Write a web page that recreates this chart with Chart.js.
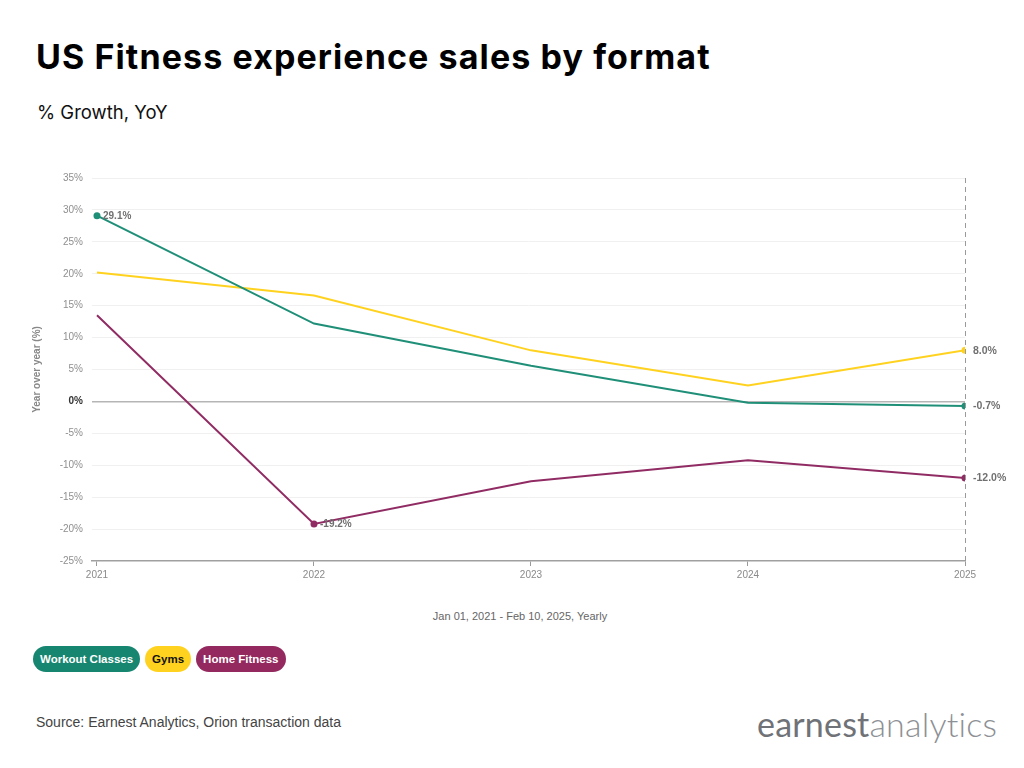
<!DOCTYPE html>
<html>
<head>
<meta charset="utf-8">
<script src="https://cdn.jsdelivr.net/npm/chart.js@4.4.1/dist/chart.umd.min.js"></script>
<style>
  html, body { margin:0; padding:0; background:#fff; }
  body { width:1024px; height:768px; position:relative; overflow:hidden; font-family: Helvetica, "Liberation Sans", Arial, sans-serif; }
  #title { position:absolute; left:36px; top:36px; font-family: Inter, "Liberation Sans", sans-serif; font-size:34px; font-weight:bold; color:#000; letter-spacing:1.1px; white-space:nowrap; }
  #subtitle { position:absolute; left:37px; top:101px; font-family: Inter, "Liberation Sans", sans-serif; font-size:18.5px; color:#111; white-space:nowrap; }
  #wrap { position:absolute; left:0; top:160px; width:1024px; height:430px; }
  #xtitle { position:absolute; left:0; width:1040px; top:610px; text-align:center; font-size:11px; color:#666; }
  #legend { position:absolute; left:33px; top:646px; display:flex; gap:5px; }
  .pill { height:26px; line-height:26px; border-radius:13px; padding:0 7px; font-size:11.5px; font-weight:bold; color:#fff; white-space:nowrap; }
  #source { position:absolute; left:36px; top:714px; font-size:14px; color:#444; white-space:nowrap; }
  #logo { position:absolute; left:757px; top:703px; font-family: Lato, "Open Sans", sans-serif; font-size:34px; color:#6f7276; white-space:nowrap; letter-spacing:0.2px; }
  #logo .a { font-weight:300; color:#8d9094; }
</style>
</head>
<body>
<div id="title">US Fitness experience sales by format</div>
<div id="subtitle">% Growth, YoY</div>
<div id="wrap"><canvas id="c"></canvas></div>
<div id="xtitle">Jan 01, 2021 - Feb 10, 2025, Yearly</div>
<div id="legend"></div>
<div id="source">Source: Earnest Analytics, Orion transaction data</div>
<div id="logo">earnest<span class="a">analytics</span></div>
<script>
const years = [2021, 2022, 2023, 2024, 2025];
const workoutClasses = [29.1, 12.2, 5.6, -0.2, -0.7];
const gyms = [20.2, 16.6, 8.0, 2.5, 8.0];
const homeFitness = [13.5, -19.2, -12.5, -9.2, -12.0];
const yTicks = [35, 30, 25, 20, 15, 10, 5, 0, -5, -10, -15, -20, -25];
const seriesNames = ['Workout Classes', 'Gyms', 'Home Fitness'];
const seriesColors = ['#1f8f78', '#ffd21f', '#902c63'];
const pillColors = ['#168671', '#ffd21f', '#93295f'];
const pillText = ['#fff', '#111', '#fff'];
// indices of points that carry a marker + label
const labelled = [[0, 4], [4], [1, 4]];

const legend = document.getElementById('legend');
seriesNames.forEach((n, i) => {
  const d = document.createElement('div');
  d.className = 'pill';
  d.style.background = pillColors[i];
  d.style.color = pillText[i];
  d.textContent = n;
  legend.appendChild(d);
});

const seriesValues = [workoutClasses, gyms, homeFitness];
const datasets = seriesValues.map((vals, si) => ({
  label: seriesNames[si],
  data: years.map((y, i) => ({ x: y, y: vals[i] })),
  borderColor: seriesColors[si],
  backgroundColor: seriesColors[si],
  borderWidth: 2,
  tension: 0,
  pointRadius: ctx => labelled[si].includes(ctx.dataIndex) ? 3.5 : 0,
  pointHoverRadius: 0,
  pointBorderWidth: 0
}));

const FONT = 'Helvetica, "Liberation Sans", Arial, sans-serif';

const labelPlugin = {
  id: 'labels',
  beforeDatasetsDraw(chart) {
    const { ctx, chartArea, scales } = chart;
    const x = scales.x.getPixelForValue(years[years.length - 1]);
    ctx.save();
    ctx.strokeStyle = '#9a9a9a';
    ctx.lineWidth = 1;
    ctx.setLineDash([5, 4]);
    ctx.beginPath();
    ctx.moveTo(x + 0.5, chartArea.top);
    ctx.lineTo(x + 0.5, chartArea.bottom);
    ctx.stroke();
    ctx.restore();
  },
  afterDatasetsDraw(chart) {
    const { ctx, scales } = chart;
    ctx.save();
    ctx.textBaseline = 'middle';
    ctx.textAlign = 'left';
    seriesValues.forEach((vals, si) => {
      labelled[si].forEach(i => {
        const px = scales.x.getPixelForValue(years[i]);
        const py = scales.y.getPixelForValue(vals[i]);
        const isEnd = i === years.length - 1;
        ctx.font = (isEnd ? 'bold 10.5px ' : 'bold 10px ') + FONT;
        ctx.fillStyle = '#707070';
        ctx.fillText(vals[i].toFixed(1) + '%', px + (isEnd ? 8 : 6), py + 0.5);
      });
    });
    ctx.restore();
  }
};

new Chart(document.getElementById('c'), {
  type: 'line',
  data: { datasets },
  options: {
    responsive: true,
    maintainAspectRatio: false,
    animation: false,
    layout: { padding: { top: 18, right: 59, bottom: 0, left: 0 } },
    plugins: { legend: { display: false }, tooltip: { enabled: false } },
    scales: {
      x: {
        type: 'linear',
        min: 2020.977,
        max: 2025,
        afterBuildTicks: s => { s.ticks = years.map(v => ({ value: v })); },
        afterFit: s => { s.height = 29; },
        ticks: { callback: v => String(v), color: '#8a8a8a', font: { family: FONT, size: 10 }, padding: 3, maxRotation: 0, autoSkip: false },
        grid: { drawOnChartArea: false, drawTicks: true, tickLength: 5, color: '#9a9a9a', tickColor: '#9a9a9a' },
        border: { display: true, color: '#a0a0a0', width: 1.5 }
      },
      y: {
        min: -25,
        max: 35,
        afterBuildTicks: s => { s.ticks = yTicks.map(v => ({ value: v })); },
        afterFit: s => { s.width = 92; },
        ticks: {
          callback: v => v + '%',
          color: c => c.tick && c.tick.value === 0 ? '#333' : '#8f8f8f',
          font: c => ({ family: FONT, size: 10, weight: c.tick && c.tick.value === 0 ? 'bold' : 'normal' }),
          padding: 9
        },
        grid: {
          drawTicks: false,
          color: c => c.tick && c.tick.value === 0 ? '#b5b5b5' : (c.tick && c.tick.value === -25 ? 'rgba(0,0,0,0)' : '#f0f0f0'),
          lineWidth: c => c.tick && c.tick.value === 0 ? 1.5 : 1
        },
        border: { display: false },
        title: { display: true, text: 'Year over year (%)', color: '#888', font: { family: FONT, size: 10, weight: 'bold' }, padding: { top: 31, bottom: 0 } }
      }
    }
  },
  plugins: [labelPlugin]
});
</script>
</body>
</html>
